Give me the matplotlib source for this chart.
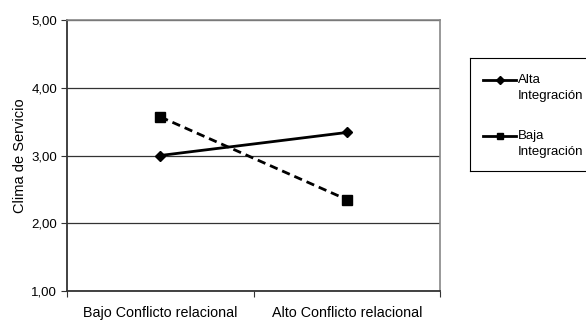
import numpy as np
import matplotlib.pyplot as plt
from matplotlib.lines import Line2D

categorias = ['Bajo Conflicto relacional', 'Alto Conflicto relacional']
alta = [3.00, 3.34]
baja = [3.57, 2.35]
series = ['Alta', 'Baja']

plt.rcParams['font.family'] = ['Liberation Sans', 'DejaVu Sans']

fig = plt.figure(figsize=(5.86, 3.2), dpi=100)
ax = fig.add_axes([67 / 586, 1 - 291 / 320, (440 - 67) / 586, (291 - 20) / 320])

x = np.arange(len(categorias)) + 0.5
ax.plot(x, alta, color='black', lw=2, marker='D', ms=5.5)
ax.plot(x, baja, color='black', lw=2, ls=(0, (3, 1.8)), marker='s', ms=7)

ax.set_xlim(0, 2)
ax.set_ylim(1, 5)
ax.set_yticks([1, 2, 3, 4, 5])
ax.set_yticklabels(['1,00', '2,00', '3,00', '4,00', '5,00'], fontsize=9.5)
ax.set_xticks([0, 1, 2])
ax.set_xticklabels([])
ax.set_xticks(x, minor=True)
ax.set_xticklabels(categorias, minor=True, fontsize=10.3)
ax.tick_params(axis='x', which='minor', length=0, pad=10.5)
ax.tick_params(axis='x', which='major', length=4, color='#333333')
ax.tick_params(axis='y', length=4, color='#333333', pad=3)
ax.set_ylabel('Clima de Servicio', fontsize=10.5)
ax.yaxis.set_label_coords(-0.107, 0.5)
ax.grid(axis='y', color='#333333', lw=0.9)
ax.set_axisbelow(True)
for s in ['left', 'bottom']:
    ax.spines[s].set_color('#333333')
    ax.spines[s].set_linewidth(1.3)
for s in ['top', 'right']:
    ax.spines[s].set_color('#888888')
    ax.spines[s].set_linewidth(1.2)

# leyenda (caja recortada en el borde derecho, como en el original)
lg = fig.add_axes([470 / 586, 1 - 171 / 320, 130 / 586, 113 / 320])
lg.set_xlim(0, 130)
lg.set_ylim(113, 0)
lg.set_xticks([])
lg.set_yticks([])
for s in lg.spines.values():
    s.set_color('black')
    s.set_linewidth(0.8)
estilos = [dict(marker='D', ms=4.5), dict(marker='s', ms=5)]
for i, (nombre, st) in enumerate(zip(series, estilos)):
    y0 = 22 + i * 56
    lg.add_line(Line2D([13, 29.5, 46], [y0, y0, y0], color='black', lw=2,
                       markevery=[1], **st))
    lg.text(48, y0, nombre, fontsize=9.5, va='center', ha='left')
    lg.text(48, y0 + 16, 'Integración', fontsize=9.5, va='center', ha='left')

fig.savefig('out.png', dpi=100)
